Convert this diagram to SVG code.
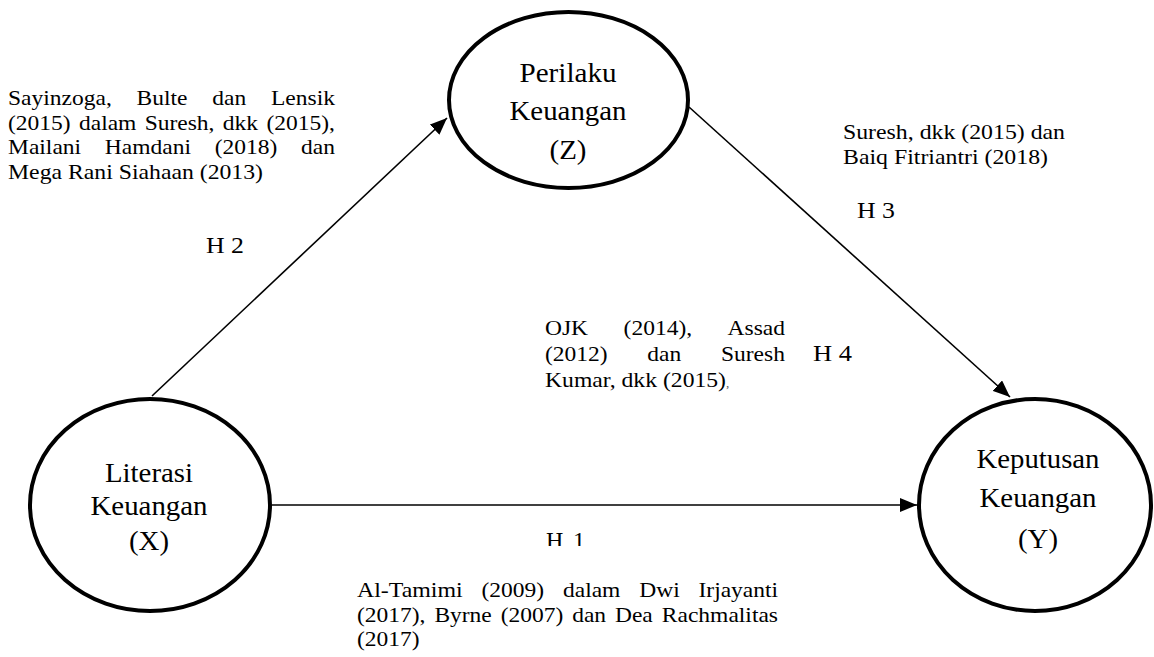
<svg xmlns="http://www.w3.org/2000/svg" width="1154" height="657" viewBox="0 0 1154 657">
<defs>
<style>
.node{fill:#fff;stroke:#000;stroke-width:4}
.big{font-family:"Liberation Serif","Times New Roman",serif;font-size:28px;fill:#000;text-anchor:middle}
.sm{font-family:"Liberation Serif","Times New Roman",serif;font-size:22px;fill:#000}
.h{font-family:"Liberation Serif","Times New Roman",serif;font-size:24px;fill:#000}
.conn{stroke:#000;stroke-width:1.6;fill:none}
</style>
<marker id="arr" markerUnits="userSpaceOnUse" markerWidth="18" markerHeight="14" refX="17" refY="7" orient="auto">
<path d="M0,0 L17,7 L0,14 z" fill="#000"/>
</marker>
<clipPath id="h1clip"><rect x="530" y="520" width="70" height="26"/></clipPath>
</defs>
<rect width="1154" height="657" fill="#fff"/>
<g id="connectors">
<line class="conn" x1="152" y1="396" x2="447" y2="118" marker-end="url(#arr)"/>
<line class="conn" x1="689" y1="107" x2="1010" y2="397" marker-end="url(#arr)"/>
<line class="conn" x1="272" y1="505" x2="917" y2="505" marker-end="url(#arr)"/>
</g>
<g id="node-z">
<ellipse class="node" cx="568.5" cy="100" rx="119.5" ry="88"/>
<text class="big" x="568" y="82" textLength="97" lengthAdjust="spacingAndGlyphs">Perilaku</text>
<text class="big" x="568" y="120" textLength="117" lengthAdjust="spacingAndGlyphs">Keuangan</text>
<text class="big" x="568" y="159" textLength="37" lengthAdjust="spacingAndGlyphs">(Z)</text>
</g>
<g id="node-x">
<ellipse class="node" cx="150" cy="505" rx="120" ry="106"/>
<text class="big" x="149" y="482" textLength="88" lengthAdjust="spacingAndGlyphs">Literasi</text>
<text class="big" x="149" y="515" textLength="117" lengthAdjust="spacingAndGlyphs">Keuangan</text>
<text class="big" x="149" y="550" textLength="40" lengthAdjust="spacingAndGlyphs">(X)</text>
</g>
<g id="node-y">
<ellipse class="node" cx="1035" cy="505" rx="116" ry="106"/>
<text class="big" x="1038" y="468" textLength="123" lengthAdjust="spacingAndGlyphs">Keputusan</text>
<text class="big" x="1038" y="507" textLength="117" lengthAdjust="spacingAndGlyphs">Keuangan</text>
<text class="big" x="1038" y="548" textLength="40" lengthAdjust="spacingAndGlyphs">(Y)</text>
</g>
<g id="labels">
<text class="sm" y="105"><tspan x="8" textLength="103.8" lengthAdjust="spacingAndGlyphs">Sayinzoga,</tspan> <tspan x="136.6" textLength="50.9" lengthAdjust="spacingAndGlyphs">Bulte</tspan> <tspan x="212.3" textLength="33.9" lengthAdjust="spacingAndGlyphs">dan</tspan> <tspan x="271" textLength="64" lengthAdjust="spacingAndGlyphs">Lensik</tspan></text>
<text class="sm" y="129.5"><tspan x="8" textLength="62.6" lengthAdjust="spacingAndGlyphs">(2015)</tspan> <tspan x="79" textLength="57.4" lengthAdjust="spacingAndGlyphs">dalam</tspan> <tspan x="144.7" textLength="69.8" lengthAdjust="spacingAndGlyphs">Suresh,</tspan> <tspan x="222.8" textLength="35.2" lengthAdjust="spacingAndGlyphs">dkk</tspan> <tspan x="266.4" textLength="68.5" lengthAdjust="spacingAndGlyphs">(2015),</tspan></text>
<text class="sm" y="154"><tspan x="8" textLength="73.1" lengthAdjust="spacingAndGlyphs">Mailani</tspan> <tspan x="104.8" textLength="86.2" lengthAdjust="spacingAndGlyphs">Hamdani</tspan> <tspan x="214.7" textLength="62.6" lengthAdjust="spacingAndGlyphs">(2018)</tspan> <tspan x="301" textLength="33.9" lengthAdjust="spacingAndGlyphs">dan</tspan></text>
<text class="sm" x="8" y="178.5" textLength="255" lengthAdjust="spacingAndGlyphs">Mega Rani Siahaan (2013)</text>
<text class="h" x="206" y="253" textLength="38" lengthAdjust="spacingAndGlyphs">H 2</text>
<text class="sm" x="843" y="139" textLength="222" lengthAdjust="spacingAndGlyphs">Suresh, dkk (2015) dan</text>
<text class="sm" x="843" y="163.5" textLength="205" lengthAdjust="spacingAndGlyphs">Baiq Fitriantri (2018)</text>
<text class="h" x="857" y="218" textLength="38" lengthAdjust="spacingAndGlyphs">H 3</text>
<text class="sm" y="335"><tspan x="545" textLength="43.1" lengthAdjust="spacingAndGlyphs">OJK</tspan> <tspan x="623.6" textLength="68.5" lengthAdjust="spacingAndGlyphs">(2014),</tspan> <tspan x="727.6" textLength="57.4" lengthAdjust="spacingAndGlyphs">Assad</tspan></text>
<text class="sm" y="361"><tspan x="545" textLength="62.6" lengthAdjust="spacingAndGlyphs">(2012)</tspan> <tspan x="647.3" textLength="33.9" lengthAdjust="spacingAndGlyphs">dan</tspan> <tspan x="720.9" textLength="64" lengthAdjust="spacingAndGlyphs">Suresh</tspan></text>
<text class="sm" x="545" y="387"><tspan textLength="181" lengthAdjust="spacingAndGlyphs">Kumar, dkk (2015)</tspan><tspan font-size="13" fill="#555">,</tspan></text>
<text class="h" x="813" y="361" textLength="39" lengthAdjust="spacingAndGlyphs">H 4</text>
<text class="h" y="548" clip-path="url(#h1clip)"><tspan x="546">H</tspan> <tspan x="573">1</tspan></text>
<text class="sm" y="597"><tspan x="357" textLength="105.7" lengthAdjust="spacingAndGlyphs">Al-Tamimi</tspan> <tspan x="481.5" textLength="62.6" lengthAdjust="spacingAndGlyphs">(2009)</tspan> <tspan x="563" textLength="57.4" lengthAdjust="spacingAndGlyphs">dalam</tspan> <tspan x="639.2" textLength="40.5" lengthAdjust="spacingAndGlyphs">Dwi</tspan> <tspan x="698.5" textLength="79.6" lengthAdjust="spacingAndGlyphs">Irjayanti</tspan></text>
<text class="sm" y="621.5"><tspan x="357" textLength="68.5" lengthAdjust="spacingAndGlyphs">(2017),</tspan> <tspan x="434.4" textLength="57.4" lengthAdjust="spacingAndGlyphs">Byrne</tspan> <tspan x="500.7" textLength="62.6" lengthAdjust="spacingAndGlyphs">(2007)</tspan> <tspan x="572.2" textLength="33.9" lengthAdjust="spacingAndGlyphs">dan</tspan> <tspan x="615" textLength="37.8" lengthAdjust="spacingAndGlyphs">Dea</tspan> <tspan x="661.8" textLength="116.2" lengthAdjust="spacingAndGlyphs">Rachmalitas</tspan></text>
<text class="sm" x="357" y="646" textLength="62.6" lengthAdjust="spacingAndGlyphs">(2017)</text>
</g>
</svg>
